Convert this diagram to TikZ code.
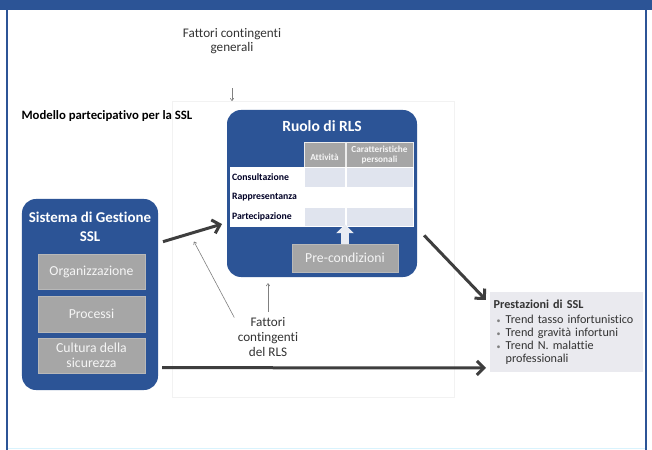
\documentclass[tikz,border=0pt]{standalone}
\usepackage{fontspec}
\setmainfont{Carlito}[Ligatures=NoCommon]
\usepackage{tikz}
\usetikzlibrary{positioning, arrows.meta}

\definecolor{sslblue}{RGB}{44,84,150}
\definecolor{boxgrey}{RGB}{166,166,166}
\definecolor{rowlight}{RGB}{224,228,238}
\definecolor{prestfill}{RGB}{234,234,239}
\definecolor{arrowdark}{RGB}{62,62,62}
\definecolor{textdark}{RGB}{51,51,51}

\begin{document}
\begin{tikzpicture}[x=1bp, y=-1bp,
        bluebox/.style={fill=sslblue, rounded corners=14bp, inner sep=0pt},
        greybox/.style={fill=boxgrey, draw=boxgrey!80!white, inner sep=0pt,
                text=white!92!gray, align=center, font=\fontsize{13.8}{15}\selectfont},
        headcell/.style={fill=boxgrey, draw=white!85!gray, line width=0.8bp, inner sep=0pt,
                minimum height=25bp, align=center, text=white!92!gray,
                font=\fontsize{9.3}{10.5}\selectfont\bfseries},
        rowcell/.style={draw=white, line width=1bp, minimum height=19.7bp, inner sep=0pt},
        rowlabel/.style={rowcell, fill=white, text width=69bp, inner xsep=2bp, align=left,
                text=black!85!blue, font=\fontsize{9.8}{11}\selectfont\bfseries},
        thickarrow/.style={draw=arrowdark, line width=3bp, -{Straight Barb[length=7bp,width=14bp]}},
        thinarrow/.style={draw=gray, line width=0.6bp, -{To[length=3bp,width=4bp]}},
        blocktip/.style={draw=rowlight!70!white, line width=8bp, -{Triangle[width=17bp,length=9bp]}},
        plain/.style={text=textdark, align=center, font=\fontsize{13.2}{14}\selectfont}]

        % page and frame
        \fill[white] (0,0) rectangle (652,450);
        \useasboundingbox (0,0) rectangle (652,450);
        \fill[sslblue] (0,0) rectangle (652,10);
        \draw[sslblue, line width=2.5bp] (7,10) -- (7,450);
        \draw[sslblue, line width=2.5bp] (646,10) -- (646,450);
        \draw[cyan!15, line width=1.5bp] (8,448.5) -- (645,448.5);

        \node[draw=gray!10, anchor=north west, minimum width=282bp, minimum height=296bp] (panel) at (172,101) {};

        \node[plain] (fcg) at (232,41) {Fattori contingenti\\generali};
        \draw[thinarrow, shorten <=31bp] (fcg.south) -- (fcg.south |- panel.north);

        \node[anchor=west, font=\fontsize{12.8}{14}\selectfont\bfseries] (title) at (18,116)
                {Modello partecipativo per la SSL};

        % Sistema di Gestione
        \node[bluebox, minimum width=136bp, minimum height=191bp] (sgs) at (90,294.5) {};
        \node[text=white, align=center, font=\fontsize{15}{19}\selectfont\bfseries] (sgst) at (90,227)
                {Sistema di Gestione\\SSL};
        \node[greybox, minimum width=107bp, minimum height=35bp] (org) at (91.5,271.5) {Organizzazione};
        \node[greybox, minimum width=107bp, minimum height=36bp] (proc) at (91.5,314) {Processi};
        \node[greybox, minimum width=107bp, minimum height=35bp] (cult) at (91.5,355.5) {Cultura della\\sicurezza};

        % Ruolo di RLS
        \node[bluebox, minimum width=190bp, minimum height=167bp] (rls) at (322,193.5) {};
        \node[text=white, font=\fontsize{15.6}{17}\selectfont\bfseries] (rlst) at (322,126) {Ruolo di RLS};
        \node[headcell, minimum width=41bp] (att) at (324.5,155) {\\Attività};
        \node[headcell, minimum width=67bp] (car) at (379.5,155) {Caratteristiche\\personali};

        \foreach \lab/\yy/\fillc [count=\i] in {Consultazione/177.5/rowlight,
                Rappresentanza/197.2/white, Partecipazione/216.9/rowlight}{
                \node[rowlabel] (lab\i) at (266.5,\yy) {\lab};
                \node[rowcell, fill=\fillc, minimum width=41bp] (ca\i) at (324.5,\yy) {};
                \node[rowcell, fill=\fillc, minimum width=67bp] (cb\i) at (379.5,\yy) {};
        }

        \node[greybox, minimum width=106bp, minimum height=28bp] (pre) at (345,258) {Pre-condizioni};
        \draw[blocktip, shorten >=-3bp] (pre.north) -- (pre.north |- ca3.south);

        % Prestazioni
        \node[fill=prestfill, anchor=north west, text width=146bp, inner xsep=3.5bp, inner ysep=0pt,
                minimum height=80bp, align=left, text=textdark,
                font=\fontsize{12.2}{13}\selectfont] (prest) at (490,292)
                {{\bfseries Prestazioni di SSL}\\[2bp]
                \makebox[12bp][l]{\hspace{3bp}\textcolor{gray}{\fontsize{8}{8}\selectfont\textbullet}}Trend tasso infortunistico\\
                \makebox[12bp][l]{\hspace{3bp}\textcolor{gray}{\fontsize{8}{8}\selectfont\textbullet}}Trend gravità infortuni\\
                \makebox[12bp][l]{\hspace{3bp}\textcolor{gray}{\fontsize{8}{8}\selectfont\textbullet}}Trend N. malattie\\
                \hspace*{12bp}professionali};

        \node[plain, font=\fontsize{13.2}{15}\selectfont] (fcr) at (268,337) {Fattori\\contingenti\\del RLS};

        % connectors
        \draw[thickarrow, shorten <=5bp, shorten >=5bp] (sgs.37) -- coordinate[pos=0.46] (mid) (rls.197);
        \draw[thickarrow, shorten <=10bp, shorten >=6bp] (rls.-20) -- (prest.160);
        \draw[thickarrow, shorten <=4bp, shorten >=4bp] (sgs.-47.2) -- (prest.205.5);
        \draw[thinarrow, shorten >=9bp] (fcr.150) -- (mid);
        \draw[thinarrow, shorten <=2bp, shorten >=6bp] (fcr.north) -- (fcr.north |- rls.south);

\end{tikzpicture}
\end{document}
